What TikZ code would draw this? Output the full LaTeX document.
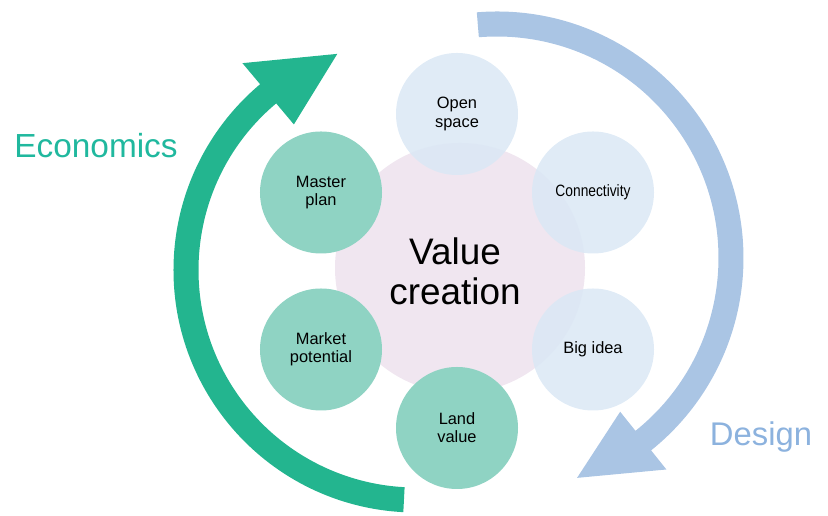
\documentclass[tikz,border=0pt]{standalone}
\usepackage{fontspec, graphicx}
\setmainfont{Liberation Sans}
\definecolor{econarrow}{RGB}{35,181,143}
\definecolor{econtext}{RGB}{32,184,158}
\definecolor{econfill}{RGB}{143,211,195}
\definecolor{designarrow}{RGB}{170,197,228}
\definecolor{designtext}{RGB}{140,178,222}
\definecolor{designfill}{RGB}{218,232,245}
\definecolor{valuefill}{RGB}{240,230,240}
\tikzset{
  econ/.style={circle, fill=econfill, minimum size=3.66cm, inner sep=0pt, align=center,
    font=\fontsize{14}{15.5}\selectfont},
  design/.style={circle, fill=designfill, fill opacity=0.85, text opacity=1,
    minimum size=3.66cm, inner sep=0pt, align=center, font=\fontsize{14}{15.5}\selectfont}
}
\begin{document}
\begin{tikzpicture}[x=0.03cm, y=0.03cm]
    \useasboundingbox (0,0) rectangle (828,516);

    \begin{scope}[shift={(416,246)}]
        \fill[econarrow] (267:242.5) arc[start angle=267, end angle=130, radius=242.5]
            -- (130:270) -- (110:230) -- (130:190) -- (130:217.5)
            arc[start angle=130, end angle=267, radius=217.5] -- cycle;
    \end{scope}
    \begin{scope}[shift={(497,258)}]
        \fill[designarrow] (94.7:246.5) arc[start angle=94.7, end angle=-51.3, radius=246.5]
            -- (-51.3:271) -- (-70:234) -- (-51.3:197) -- (-51.3:221.5)
            arc[start angle=-51.3, end angle=94.7, radius=221.5] -- cycle;
    \end{scope}

    \node[circle, fill=valuefill, minimum size=7.5cm] at (460,248) (value) {};

    \node[design] at (457,402)   (open)   {Open\\space};
    \node[design] at (593,323.5) (conn)   {\scalebox{0.84}[1]{Connectivity}};
    \node[design] at (593,166.5) (big)    {Big idea};
    \node[econ]   at (457,88)    (land)   {Land\\value};
    \node[econ]   at (321,166.5) (market) {Market\\potential};
    \node[econ]   at (321,323.5) (master) {Master\\plan};

    \node[align=center, font=\fontsize{31.5}{34}\selectfont] at (455,245) (valuetext) {Value\\creation};
    \node[text=econtext, font=\fontsize{28.5}{30}\selectfont] at (96,370) (econlabel) {Economics};
    \node[text=designtext, font=\fontsize{28}{30}\selectfont] at (761,79) (designlabel) {Design};
\end{tikzpicture}
\end{document}
